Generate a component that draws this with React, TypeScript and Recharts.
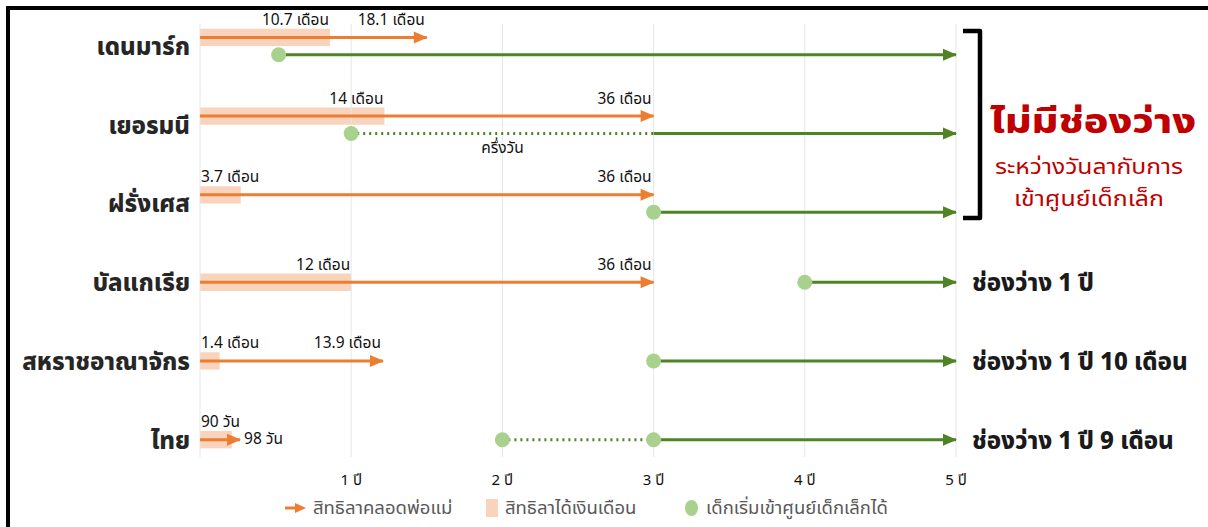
import React from 'react';
import { ComposedChart, Scatter, XAxis, YAxis, ReferenceArea, ReferenceLine } from 'recharts';

const countries = ['เดนมาร์ก', 'เยอรมนี', 'ฝรั่งเศส', 'บัลแกเรีย', 'สหราชอาณาจักร', 'ไทย'];
const paidLeaveYears = [0.86, 1.22, 0.27, 1.0, 0.13, 0.21];
const parentalLeaveYears = [1.5, 3.0, 3.0, 3.0, 1.21, 0.265];
const childcareStartYears = [0.52, 1.0, 3.0, 4.0, 3.0, 2.0];
const childcareFullDayYears = [0.52, 3.0, 3.0, 4.0, 3.0, 3.0];
const childcareEndYears = [5, 5, 5, 5, 5, 5];
const fullDayDot = [false, false, false, false, false, true];
const paidLeaveLabels = ['10.7 เดือน', '14 เดือน', '3.7 เดือน', '12 เดือน', '1.4 เดือน', '90 วัน'];
const parentalLeaveLabels = ['18.1 เดือน', '36 เดือน', '36 เดือน', '36 เดือน', '13.9 เดือน', '98 วัน'];
const partTimeLabels = ['', 'ครึ่งวัน', '', '', '', ''];
const gapLabels = ['', '', '', 'ช่องว่าง 1 ปี', 'ช่องว่าง 1 ปี 10 เดือน', 'ช่องว่าง 1 ปี 9 เดือน'];
const xTicks = [1, 2, 3, 4, 5];
const gridYears = [0, 1, 2, 3, 4, 5];
const rowTicks = [0, 1, 2, 3, 4, 5];
const legendLabels = ['สิทธิลาคลอดพ่อแม่', 'สิทธิลาได้เงินเดือน', 'เด็กเริ่มเข้าศูนย์เด็กเล็กได้'];
const noGapTitle = 'ไม่มีช่องว่าง';
const noGapSub = ['ระหว่างวันลากับการ', 'เข้าศูนย์เด็กเล็ก'];

const ORANGE = '#ed7d31';
const PEACH = '#fad3bd';
const GREEN = '#4f8424';
const DOT = '#a9d18e';
const RED = '#c00000';
const FONT = '"Noto Sans Thai", "Noto Sans", Tahoma, sans-serif';

const SPLIT = 0.11;
const BAR_H = 0.11;

const rowY = (i: number) => {
  const split = childcareStartYears[i] <= parentalLeaveYears[i];
  return { orange: split ? i - SPLIT : i, green: split ? i + SPLIT : i };
};

const segShape = (color: string) => (props: any) => {
  const { cx, cy, payload } = props;
  if (cx == null || cy == null) return <g />;
  if (payload.arrow) {
    return <path d={`M${cx - 13},${cy - 6} L${cx + 1},${cy} L${cx - 13},${cy + 6} Z`} fill={color} />;
  }
  if (payload.dot) {
    return <circle cx={cx} cy={cy} r={7.5} fill={DOT} />;
  }
  return <g />;
};

const labelShape = (props: any) => {
  const { cx, cy, payload } = props;
  if (cx == null || cy == null) return <g />;
  return (
    <text
      x={cx + (payload.dx || 0)}
      y={cy + (payload.dy || 0)}
      textAnchor={payload.anchor}
      dominantBaseline="central"
      fontSize={payload.size || 15.5}
      fontWeight={payload.weight || 400}
      fill={payload.color || '#111'}
      fontFamily={FONT}
    >
      {payload.text}
    </text>
  );
};

const CountryTick = (props: any) => {
  const { x, y, payload } = props;
  const i = payload.value as number;
  return (
    <text x={x} y={y + 2} textAnchor="end" dominantBaseline="central" fontSize={24} fontWeight={800} fill="#262626" fontFamily={FONT}>
      {countries[i]}
    </text>
  );
};

export default function App() {
  const labels: any[] = [];
  countries.forEach((_, i) => {
    const { orange, green } = rowY(i);
    const paid = paidLeaveYears[i];
    const leave = parentalLeaveYears[i];
    labels.push(
      paid > 0.5
        ? { x: paid, y: orange, text: paidLeaveLabels[i], anchor: 'end', dx: -1, dy: -17 }
        : { x: 0, y: orange, text: paidLeaveLabels[i], anchor: 'start', dx: 1, dy: -17 }
    );
    labels.push(
      leave > 0.5
        ? { x: leave, y: orange, text: parentalLeaveLabels[i], anchor: 'end', dx: -2, dy: -17 }
        : { x: leave, y: orange, text: parentalLeaveLabels[i], anchor: 'start', dx: 4, dy: 0 }
    );
    if (partTimeLabels[i]) {
      labels.push({ x: (childcareStartYears[i] + childcareFullDayYears[i]) / 2, y: green, text: partTimeLabels[i], anchor: 'middle', dx: 0, dy: 15 });
    }
    if (gapLabels[i]) {
      labels.push({ x: childcareEndYears[i], y: green, text: gapLabels[i], anchor: 'start', dx: 16, dy: 2, size: 24, weight: 800, color: '#1a1a1a' });
    }
  });

  const legendText = { position: 'absolute' as const, top: 0, lineHeight: '26px' };

  return (
    <div style={{ position: 'relative', width: 1208, height: 527, overflow: 'hidden', background: '#fff', fontFamily: FONT }}>
      <style>{`body{margin:0}`}</style>
      <div style={{ position: 'absolute', left: 6, top: 6, width: 1200, height: 600, borderTop: '4px solid #000', borderLeft: '4px solid #000', borderRight: '1px solid #bdbdbd' }} />
      <div style={{ position: 'absolute', left: 0, top: 0 }}>
        <ComposedChart width={1208} height={527} margin={{ top: 24, right: 252, left: 0, bottom: 40 }} style={{ overflow: 'visible' }}>
          <XAxis
            type="number"
            dataKey="x"
            domain={[0, 5]}
            ticks={xTicks}
            tickFormatter={(v: number) => `${v} ปี`}
            tickLine={false}
            axisLine={false}
            tickSize={0}
            tickMargin={17}
            height={30}
            tick={{ fontSize: 15, fill: '#111', fontFamily: FONT }}
          />
          <YAxis
            type="number"
            dataKey="y"
            domain={[-0.28, 5.22]}
            reversed
            ticks={rowTicks}
            tick={<CountryTick />}
            tickLine={false}
            axisLine={false}
            tickSize={0}
            tickMargin={10}
            width={200}
          />
          {gridYears.map((g) => (
            <ReferenceLine key={`g${g}`} x={g} stroke="#e6e6e6" strokeWidth={1} />
          ))}
          {countries.map((c, i) => {
            const { orange } = rowY(i);
            return (
              <ReferenceArea key={`pa${i}`} x1={0} x2={paidLeaveYears[i]} y1={orange - BAR_H} y2={orange + BAR_H} fill={PEACH} fillOpacity={1} stroke="none" />
            );
          })}
          {countries.map((c, i) => {
            const { orange } = rowY(i);
            return (
              <Scatter
                key={`or${i}`}
                data={[{ x: 0, y: orange }, { x: parentalLeaveYears[i], y: orange, arrow: true }]}
                line={{ stroke: ORANGE, strokeWidth: 3 }}
                shape={segShape(ORANGE)}
                isAnimationActive={false}
              />
            );
          })}
          {countries.map((c, i) => {
            const { green } = rowY(i);
            const s = childcareStartYears[i];
            const f = childcareFullDayYears[i];
            return f > s ? (
              <Scatter
                key={`gd${i}`}
                data={[{ x: s, y: green }, { x: f, y: green }]}
                line={{ stroke: GREEN, strokeWidth: 3, strokeDasharray: '2 4' }}
                shape={segShape(GREEN)}
                isAnimationActive={false}
              />
            ) : null;
          })}
          {countries.map((c, i) => {
            const { green } = rowY(i);
            const s = childcareStartYears[i];
            const f = childcareFullDayYears[i];
            return (
              <Scatter
                key={`gs${i}`}
                data={[{ x: f, y: green, dot: f === s || fullDayDot[i] }, { x: childcareEndYears[i], y: green, arrow: true }]}
                line={{ stroke: GREEN, strokeWidth: 3 }}
                shape={segShape(GREEN)}
                isAnimationActive={false}
              />
            );
          })}
          {countries.map((c, i) => {
            const { green } = rowY(i);
            const s = childcareStartYears[i];
            const f = childcareFullDayYears[i];
            return f > s ? (
              <Scatter
                key={`gdot${i}`}
                data={[{ x: s, y: green, dot: true }]}
                shape={segShape(GREEN)}
                isAnimationActive={false}
              />
            ) : null;
          })}
          <Scatter data={labels} shape={labelShape} isAnimationActive={false} />
        </ComposedChart>
      </div>
      <svg width={1208} height={527} style={{ position: 'absolute', left: 0, top: 0, pointerEvents: 'none' }}>
        <path d="M963,31 L980,31 L980,218 L963,218" fill="none" stroke="#000" strokeWidth={4.5} strokeLinejoin="round" />
        <text x={1093} y={122} textAnchor="middle" dominantBaseline="central" fontSize={34} fontWeight={800} fill={RED} fontFamily={FONT} textLength={206} lengthAdjust="spacingAndGlyphs">{noGapTitle}</text>
        <text x={1089} y={167} textAnchor="middle" dominantBaseline="central" fontSize={21} fill={RED} fontFamily={FONT} textLength={188} lengthAdjust="spacingAndGlyphs">{noGapSub[0]}</text>
        <text x={1089} y={199} textAnchor="middle" dominantBaseline="central" fontSize={21} fill={RED} fontFamily={FONT} textLength={150} lengthAdjust="spacingAndGlyphs">{noGapSub[1]}</text>
      </svg>
      <div style={{ position: 'absolute', left: 0, top: 495, width: 1208, height: 26, fontSize: 18.5, color: '#595959', fontFamily: FONT, whiteSpace: 'nowrap' }}>
        <svg width={22} height={14} style={{ position: 'absolute', left: 285, top: 6 }}>
          <line x1={0} y1={7} x2={12} y2={7} stroke={ORANGE} strokeWidth={3} />
          <path d="M10,2 L21,7 L10,12 Z" fill={ORANGE} />
        </svg>
        <span style={{ ...legendText, left: 313 }}>{legendLabels[0]}</span>
        <span style={{ position: 'absolute', left: 486, top: 4, width: 12, height: 18, background: PEACH }} />
        <span style={{ ...legendText, left: 505, width: 150, textAlign: 'justify' }}>{legendLabels[1]}</span>
        <span style={{ position: 'absolute', left: 685, top: 5, width: 13, height: 16, borderRadius: '50%', background: DOT }} />
        <span style={{ ...legendText, left: 706 }}>{legendLabels[2]}</span>
      </div>
    </div>
  );
}
